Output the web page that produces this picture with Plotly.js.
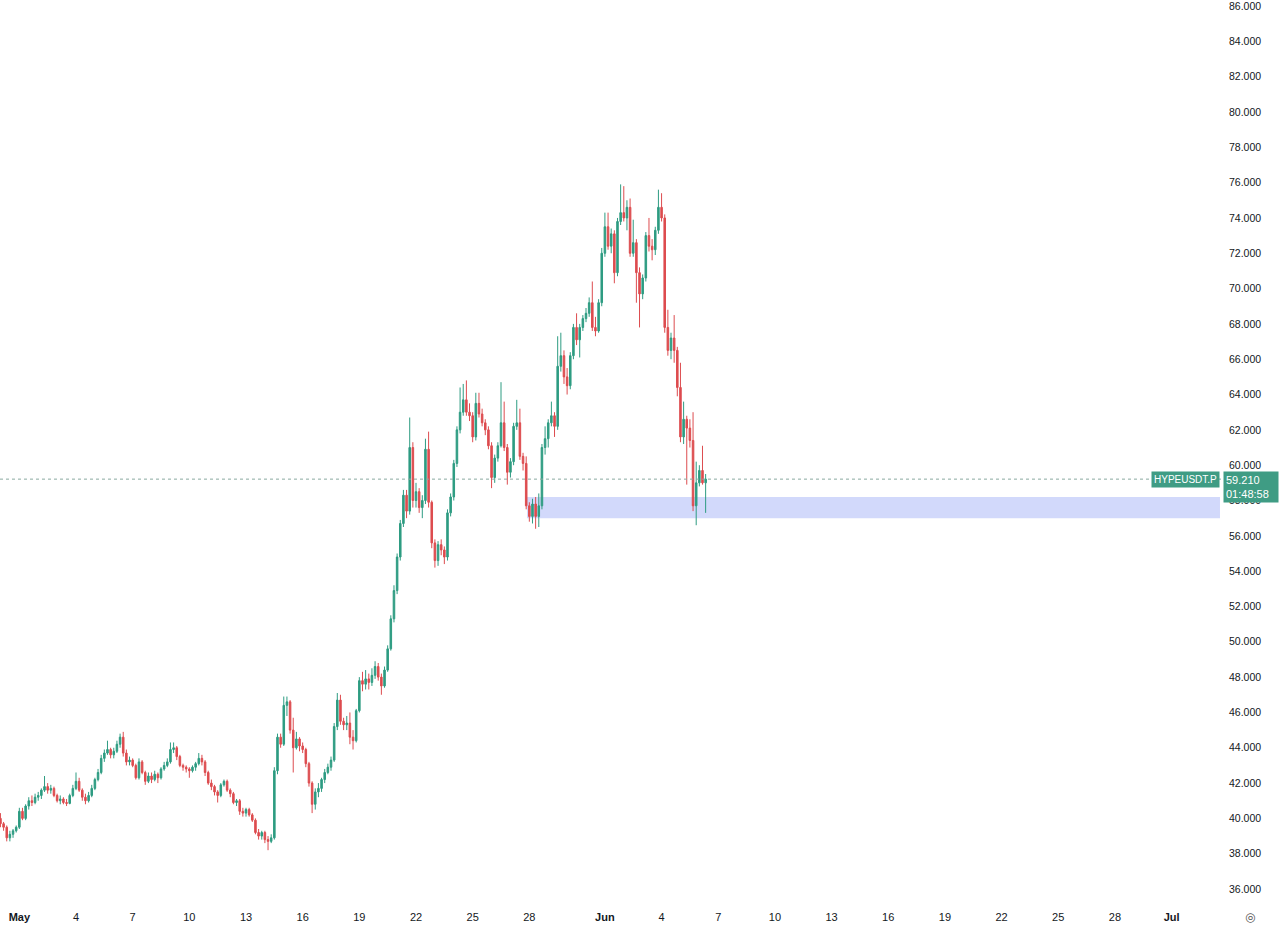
<!DOCTYPE html>
<html>
<head>
<meta charset="utf-8">
<script src="https://cdn.plot.ly/plotly-3.0.1.min.js"></script>
<style>html,body{margin:0;padding:0;background:#fff;}#chart{width:1280px;height:933px;}</style>
</head>
<body>
<div id="chart"></div>
<script>
// 4h candles, first bar 2025-04-30 00:00
const startTime = '2025-04-30T00:00:00Z';
const barHours = 4;

const opens = [40.0,39.7,39.5,38.9,39.1,39.3,39.5,40.4,40.0,40.7,41.0,40.9,41.2,41.3,41.6,41.8,41.6,41.7,41.3,41.0,41.1,40.9,40.85,41.3,41.7,42.1,41.6,41.2,41.0,41.3,41.7,42.2,42.6,43.4,43.7,43.9,43.6,43.8,44.2,44.6,43.7,43.2,43.3,43.0,42.3,43.2,42.6,42.1,42.4,42.2,42.5,42.3,42.8,43.0,43.2,43.9,44.0,43.5,43.0,42.9,42.8,42.7,42.9,43.1,43.4,43.2,42.6,42.0,41.8,41.5,41.3,41.9,42.1,41.6,41.4,40.9,41.0,40.4,40.3,40.5,40.2,39.9,39.2,39.0,39.2,38.8,38.7,38.9,42.7,44.6,44.2,46.4,46.6,45.0,44.0,44.5,44.1,43.9,43.1,42.0,40.8,41.5,41.7,42.2,42.6,42.9,43.3,45.2,46.7,45.5,45.3,45.4,44.6,44.4,46.1,47.8,47.6,47.9,47.7,48.1,48.6,48.0,47.5,48.4,49.6,51.3,52.9,54.8,56.7,58.3,57.4,61.0,58.0,58.5,57.6,58.0,60.9,57.9,55.6,54.6,55.5,55.2,54.8,57.3,58.2,60.1,62.0,63.0,63.7,63.0,62.8,61.6,63.5,62.9,62.4,62.0,61.1,59.3,60.4,61.1,62.4,61.0,59.6,60.2,62.2,62.4,60.5,60.1,57.7,57.1,57.8,57.1,57.7,61.0,61.5,62.4,62.8,62.2,65.6,66.2,65.0,64.5,66.2,67.8,67.1,67.8,68.3,68.6,69.2,67.8,67.6,69.2,72.0,73.5,72.4,73.1,70.9,73.8,74.3,74.0,74.6,72.0,72.6,70.9,69.7,70.6,73.0,72.4,72.2,73.3,74.6,74.0,67.8,66.5,67.2,66.5,64.4,61.6,62.6,62.1,61.4,57.7,59.0,59.7,59.0];
const highs = [40.3,39.8,39.6,39.3,39.4,39.6,40.6,40.6,40.8,41.2,41.3,41.4,41.5,41.7,42.4,42.0,41.9,41.8,41.4,41.3,41.2,41.1,41.4,41.9,42.6,42.3,41.7,41.4,41.5,41.9,42.3,42.8,43.6,43.9,44.4,44.0,44.0,44.4,44.8,44.9,43.9,43.5,43.4,43.1,43.4,43.3,42.7,42.6,42.6,42.7,42.6,42.9,43.2,43.4,44.3,44.3,44.1,43.6,43.1,43.0,42.9,43.0,43.2,43.7,43.6,43.3,42.7,42.2,41.9,41.6,42.0,42.2,42.2,41.7,41.5,41.1,41.1,40.6,40.6,40.6,40.3,40.0,39.4,39.3,39.3,39.0,39.1,42.9,44.8,44.8,46.9,46.9,46.7,45.7,44.9,44.6,44.3,44.0,43.2,42.1,41.7,42.0,42.3,42.8,43.1,43.5,45.4,47.1,47.0,45.7,45.8,46.0,45.0,46.2,48.0,48.3,48.4,48.2,48.5,48.9,48.8,48.2,48.6,49.8,51.5,53.2,55.0,56.9,58.6,58.6,62.7,61.3,59.0,58.7,58.3,61.5,61.9,58.0,55.8,55.7,55.8,55.4,57.5,58.4,60.3,62.2,64.4,64.6,64.8,63.5,63.0,64.1,64.1,63.2,62.6,62.2,61.3,60.6,61.3,64.7,63.6,61.2,60.4,62.4,63.7,63.2,60.7,60.5,57.9,58.1,58.2,58.4,61.2,62.2,62.6,63.6,63.0,67.3,67.5,66.5,65.5,66.4,68.0,68.6,68.0,68.5,68.9,69.5,70.4,68.4,69.4,72.3,74.3,74.3,73.4,73.3,74.0,75.9,75.8,75.0,75.1,73.9,72.8,71.2,70.8,73.2,74.0,72.8,73.5,75.6,75.4,74.2,68.8,67.5,68.5,66.7,65.8,63.6,62.8,62.6,63.0,60.2,60.0,61.1,59.5];
const lows = [39.5,39.3,38.7,38.7,38.9,39.2,39.4,39.9,39.9,40.5,40.7,40.8,41.0,41.1,41.5,41.4,41.4,41.2,40.9,40.8,40.8,40.7,40.8,41.2,41.6,41.5,41.0,40.8,40.9,41.2,41.6,42.1,42.5,43.2,43.6,43.4,43.4,43.7,44.0,43.5,43.0,43.0,42.9,42.2,42.2,42.5,41.9,42.0,42.0,42.1,42.0,42.2,42.7,42.9,43.1,43.7,43.3,42.9,42.7,42.6,42.3,42.6,42.7,43.0,43.0,42.4,41.9,41.6,41.3,40.9,41.2,41.8,41.5,41.2,40.8,40.7,40.2,40.1,40.1,40.1,39.8,39.1,38.8,38.8,38.6,38.2,38.6,38.8,42.5,44.0,44.1,45.8,44.8,42.6,43.9,43.8,43.7,42.9,41.8,40.3,40.5,41.2,41.5,42.0,42.5,42.7,43.2,45.0,45.3,45.0,45.0,44.2,43.9,44.3,46.0,47.2,47.3,47.3,47.5,47.9,47.8,47.0,47.4,48.3,49.5,51.1,52.7,54.6,56.5,57.0,57.2,57.6,57.6,57.3,57.0,57.8,57.6,55.3,54.2,54.3,54.9,54.4,54.6,57.1,58.0,59.9,61.8,62.8,62.8,62.5,61.3,61.4,62.7,62.2,61.7,60.9,58.7,59.0,60.2,61.0,60.8,58.9,59.3,60.0,62.0,60.3,59.7,57.5,56.8,56.7,56.4,56.5,57.5,60.6,61.0,62.2,61.6,62.0,65.3,64.6,64.0,64.3,66.0,66.8,66.1,67.6,68.1,68.4,67.6,67.3,67.5,69.0,71.8,72.2,72.0,70.3,70.7,73.6,73.8,73.3,71.8,71.8,69.2,67.8,69.4,70.4,72.1,71.6,71.9,73.1,73.8,67.5,66.2,66.0,65.8,63.9,61.3,61.2,58.9,61.0,57.4,56.6,58.8,58.9,57.3];
const closes = [39.7,39.5,38.9,39.1,39.3,39.5,40.4,40.0,40.7,41.0,40.9,41.2,41.3,41.6,41.8,41.6,41.7,41.3,41.0,41.1,40.9,40.85,41.3,41.7,42.1,41.6,41.2,41.0,41.3,41.7,42.2,42.6,43.4,43.7,43.9,43.6,43.8,44.2,44.6,43.7,43.2,43.3,43.0,42.3,43.2,42.6,42.1,42.4,42.2,42.5,42.3,42.8,43.0,43.2,43.9,44.0,43.5,43.0,42.9,42.8,42.7,42.9,43.1,43.4,43.2,42.6,42.0,41.8,41.5,41.3,41.9,42.1,41.6,41.4,40.9,41.0,40.4,40.3,40.5,40.2,39.9,39.2,39.0,39.2,38.8,38.7,38.9,42.7,44.6,44.2,46.4,46.6,45.0,44.0,44.5,44.1,43.9,43.1,42.0,40.8,41.5,41.7,42.2,42.6,42.9,43.3,45.2,46.7,45.5,45.3,45.4,44.6,44.4,46.1,47.8,47.6,47.9,47.7,48.1,48.6,48.0,47.5,48.4,49.6,51.3,52.9,54.8,56.7,58.3,57.4,61.0,58.0,58.5,57.6,58.0,60.9,57.9,55.6,54.6,55.5,55.2,54.8,57.3,58.2,60.1,62.0,63.0,63.7,63.0,62.8,61.6,63.5,62.9,62.4,62.0,61.1,59.3,60.4,61.1,62.4,61.0,59.6,60.2,62.2,62.4,60.5,60.1,57.7,57.1,57.8,57.1,57.7,61.0,61.5,62.4,62.8,62.2,65.6,66.2,65.0,64.5,66.2,67.8,67.1,67.8,68.3,68.6,69.2,67.8,67.6,69.2,72.0,73.5,72.4,73.1,70.9,73.8,74.3,74.0,74.6,72.0,72.6,70.9,69.7,70.6,73.0,72.4,72.2,73.3,74.6,74.0,67.8,66.5,67.2,66.5,64.4,61.6,62.6,62.1,61.4,57.7,59.0,59.7,59.0,59.21];

const tickDates = ['2025-05-01','2025-05-04','2025-05-07','2025-05-10','2025-05-13','2025-05-16','2025-05-19','2025-05-22','2025-05-25','2025-05-28','2025-06-01','2025-06-04','2025-06-07','2025-06-10','2025-06-13','2025-06-16','2025-06-19','2025-06-22','2025-06-25','2025-06-28','2025-07-01'];
const tickLabels = ['<b>May</b>','4','7','10','13','16','19','22','25','28','<b>Jun</b>','4','7','10','13','16','19','22','25','28','<b>Jul</b>'];

const symbol = 'HYPEUSDT.P';
const lastPrice = 59.21;
const countdown = '01:48:58';
const zoneLow = 57.0, zoneHigh = 58.2;
const zoneStart = '2025-05-27 21:00', zoneEnd = '2025-07-03 13:30';

const t0 = Date.parse(startTime);
const times = closes.map((_, i) => new Date(t0 + i * barHours * 3600000).toISOString().slice(0,16).replace('T',' '));

const UP = '#2e9c82', DOWN = '#dd4c4f';
const LABEL_BG = '#3f9c84';
const fontFam = '"Liberation Sans", Arial, sans-serif';

const trace = {
  type: 'candlestick',
  x: times, open: opens, high: highs, low: lows, close: closes,
  increasing: {line: {color: UP, width: 1}, fillcolor: UP},
  decreasing: {line: {color: DOWN, width: 1}, fillcolor: DOWN},
  whiskerwidth: 0,
  hoverinfo: 'skip'
};

const layout = {
  width: 1280, height: 933,
  margin: {l: 0, r: 58, t: 0, b: 30},
  paper_bgcolor: '#ffffff', plot_bgcolor: '#ffffff',
  showlegend: false,
  xaxis: {
    type: 'date',
    range: ['2025-04-29 23:26', '2025-07-03 16:04'],
    rangeslider: {visible: false},
    showgrid: false, zeroline: false, showline: false,
    tickmode: 'array', tickvals: tickDates, ticktext: tickLabels,
    ticks: '', ticklabelstandoff: 6,
    tickfont: {family: fontFam, size: 11, color: '#131722'}
  },
  yaxis: {
    side: 'right',
    range: [35.21, 86.34],
    tick0: 0, dtick: 2, tickformat: '.3f',
    showgrid: false, zeroline: false, showline: false,
    ticks: '', ticklabelstandoff: 6, ticklabeloverflow: 'allow',
    tickfont: {family: fontFam, size: 10.5, color: '#131722'}
  },
  shapes: [
    {type: 'rect', xref: 'x', yref: 'y', x0: zoneStart, x1: zoneEnd, y0: zoneLow, y1: zoneHigh,
     fillcolor: '#d2d9fb', line: {width: 0}, layer: 'below'},
    {type: 'line', xref: 'paper', yref: 'y', x0: 0, x1: 1, y0: lastPrice, y1: lastPrice,
     line: {color: '#8aa9a0', width: 1, dash: 'dot'}}
  ],
  annotations: [
    {xref: 'paper', yref: 'y', x: 1, y: lastPrice, xanchor: 'right', yanchor: 'middle', xshift: -2,
     text: symbol, showarrow: false, bgcolor: LABEL_BG, borderpad: 2,
     font: {family: fontFam, size: 10, color: '#ffffff'}},
    {xref: 'paper', yref: 'y', x: 1, y: lastPrice, xanchor: 'left', yanchor: 'top', xshift: 1, yshift: 8,
     text: lastPrice.toFixed(3) + '<br>' + countdown, align: 'left', showarrow: false,
     bgcolor: LABEL_BG, borderpad: 2, width: 50,
     font: {family: fontFam, size: 11, color: '#ffffff'}},
    {xref: 'paper', yref: 'paper', x: 1, y: 0, xanchor: 'center', yanchor: 'middle', xshift: 28, yshift: -14,
     text: '◎', showarrow: false, font: {family: '"DejaVu Sans"', size: 12, color: '#555'}}
  ]
};

Plotly.newPlot('chart', [trace], layout, {displayModeBar: false, staticPlot: true});
</script>
</body>
</html>
